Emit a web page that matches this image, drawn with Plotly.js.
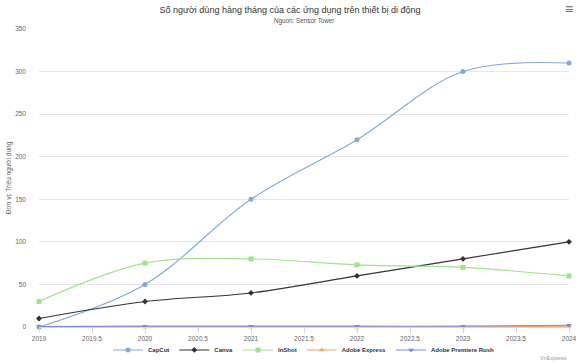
<!DOCTYPE html>
<html><head><meta charset="utf-8">
<script src="https://cdn.plot.ly/plotly-3.0.1.min.js"></script>
<style>html,body{margin:0;padding:0;background:#fff}#chart{width:580px;height:363px}</style>
</head><body><div id="chart"></div>
<script>
var years = [2019, 2020, 2021, 2022, 2023, 2024];
var capcut = [0, 50, 150, 220, 300, 310];
var canva = [10, 30, 40, 60, 80, 100];
var inshot = [30, 75, 80, 73, 70, 60];
var adobeExpress = [0, 0, 0, 0, 0, 1];
var premiereRush = [0.5, 1, 1, 1, 1, 2];
var seriesNames = ['CapCut', 'Canva', 'InShot', 'Adobe Express', 'Adobe Premiere Rush'];
var xTicks = [2019, 2019.5, 2020, 2020.5, 2021, 2021.5, 2022, 2022.5, 2023, 2023.5, 2024];
var yTicks = [0, 50, 100, 150, 200, 250, 300, 350];

var colors = ['#82a9d9', '#333333', '#9ee38d', '#f7a35c', '#8085e9'];
var symbols = ['circle', 'diamond', 'square', 'triangle-up', 'triangle-down'];
var data = [capcut, canva, inshot, adobeExpress, premiereRush];
var traces = data.map(function (d, i) {
  return {
    x: years, y: d, name: seriesNames[i], type: 'scatter', mode: 'lines+markers',
    line: {color: colors[i], width: 1.1, shape: 'spline', smoothing: 1},
    marker: {color: colors[i], symbol: symbols[i], size: i === 1 ? 4.5 : 5},
    cliponaxis: false
  };
});
var layout = {
  width: 580, height: 363,
  margin: {l: 39, r: 11, t: 29, b: 36},
  paper_bgcolor: '#fff', plot_bgcolor: '#fff',
  font: {family: 'Liberation Sans, Arial, sans-serif', color: '#666', size: 6.5},
  title: {text: 'Số người dùng hàng tháng của các ứng dụng trên thiết bị di động', x: 0.5, xanchor: 'center', yref: 'container', y: 0.972, yanchor: 'middle', font: {size: 9, color: '#333'}},
  xaxis: {range: [2019, 2024], tickvals: xTicks, ticktext: xTicks.map(String), showgrid: false, zeroline: false,
    showline: true, linecolor: '#ccd6eb', ticks: 'outside', ticklen: 5, tickcolor: '#ccd6eb', tickfont: {size: 6.5, color: '#666'}},
  yaxis: {range: [0, 350], tickvals: yTicks, showgrid: true, gridcolor: '#e6e6e6', zeroline: false, showline: false,
    tickfont: {size: 6.5, color: '#666'}, ticklabelstandoff: 12,
    title: {text: 'Đơn vị: Triệu người dùng', font: {size: 6.5, color: '#666'}, standoff: 2}},
  showlegend: true,
  legend: {orientation: 'h', x: 0.5, xanchor: 'center', yref: 'container', y: 0.036, yanchor: 'middle', bgcolor: 'rgba(0,0,0,0)', font: {size: 6, color: '#333', weight: 'bold'}, itemwidth: 30, tracegroupgap: 0},
  annotations: [
    {text: 'Nguồn: Sensor Tower', xref: 'paper', yref: 'paper', x: 0.5, xanchor: 'center', y: 1.0, yanchor: 'middle', yshift: 9, showarrow: false, font: {size: 6.3, color: '#555'}},
    {text: 'VnExpress', xref: 'paper', yref: 'paper', x: 1, xanchor: 'right', y: 0, yanchor: 'middle', yshift: -31, xshift: 0, showarrow: false, font: {size: 5.5, color: '#999'}},
    {text: '≡', xref: 'paper', yref: 'paper', x: 1, xanchor: 'right', y: 1, yanchor: 'middle', yshift: 20, xshift: 6, showarrow: false, font: {size: 14, color: '#666'}}
  ]
};
Plotly.newPlot('chart', traces, layout, {displayModeBar: false, responsive: false});
</script></body></html>
